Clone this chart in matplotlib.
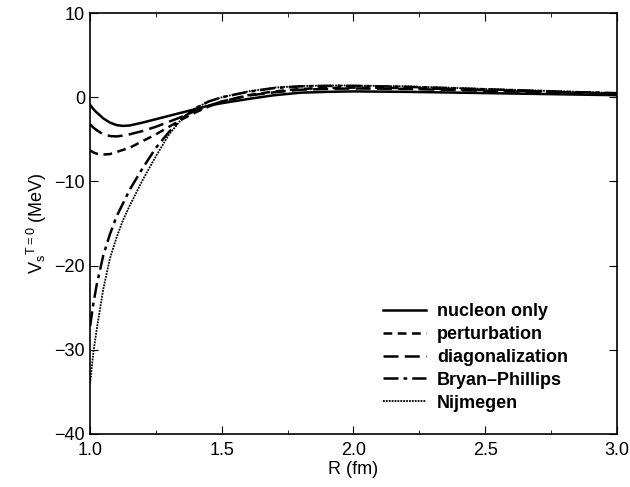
import numpy as np
import matplotlib.pyplot as plt
from matplotlib.ticker import MultipleLocator

plt.rcParams['font.family'] = ['Liberation Sans', 'DejaVu Sans']
plt.rcParams['mathtext.default'] = 'regular'

# R grid (fm) and potentials (MeV)
R = [1.0, 1.0125, 1.025, 1.05, 1.075, 1.1, 1.125, 1.15, 1.2, 1.25, 1.3, 1.35, 1.4,
     1.45, 1.5, 1.6, 1.7, 1.8, 1.9, 2.0, 2.2, 2.4, 2.6, 2.8, 3.0]

v_nucleon = [-0.9, -1.4, -1.8, -2.5, -3.0, -3.3, -3.4, -3.35, -3.0, -2.6, -2.2, -1.8, -1.4,
             -1.0, -0.7, -0.2, 0.25, 0.55, 0.65, 0.7, 0.65, 0.55, 0.45, 0.35, 0.25]
v_pert = [-6.3, -6.55, -6.7, -6.8, -6.75, -6.5, -6.25, -6.0, -5.2, -4.4, -3.5, -2.6, -1.8,
          -1.1, -0.5, 0.25, 0.7, 1.0, 1.1, 1.15, 1.1, 0.95, 0.8, 0.6, 0.45]
v_diag = [-3.2, -3.6, -3.9, -4.4, -4.6, -4.65, -4.55, -4.4, -4.0, -3.5, -2.9, -2.3, -1.6,
          -1.0, -0.5, 0.2, 0.6, 0.9, 1.0, 1.05, 1.0, 0.85, 0.7, 0.55, 0.4]
v_bp = [-27.2, -24.5, -22.3, -18.8, -16.3, -14.2, -12.6, -11.0, -8.4, -6.0, -4.1, -2.5, -1.3,
        -0.5, 0.0, 0.65, 1.1, 1.3, 1.35, 1.35, 1.25, 1.05, 0.85, 0.65, 0.5]
v_nijm = [-34.0, -30.3, -27.6, -22.8, -19.2, -16.7, -14.6, -12.9, -9.8, -7.0, -4.4, -2.5, -1.3,
          -0.5, 0.0, 0.7, 1.15, 1.35, 1.4, 1.4, 1.3, 1.1, 0.9, 0.7, 0.5]

fig = plt.figure(figsize=(6.3, 4.87), dpi=100)
ax = fig.add_axes([0.143, 0.109, 0.836, 0.864])

ax.plot(R, v_nucleon, color='black', lw=1.8, ls='-', label='nucleon only')
ax.plot(R, v_pert, color='black', lw=1.8, ls=(0, (3.5, 2.2)), label='perturbation')
ax.plot(R, v_diag, color='black', lw=1.8, ls=(0, (6, 2.5)), label='diagonalization')
ax.plot(R, v_bp, color='black', lw=1.8, ls=(0, (6, 2, 1.5, 2)), label='Bryan\u2013Phillips')
ax.plot(R, v_nijm, color='black', lw=1.3, ls=(0, (1, 0.6)), label='Nijmegen')

ax.set_xlim(1.0, 3.0)
ax.set_ylim(-40, 10)
ax.xaxis.set_major_locator(MultipleLocator(0.5))
ax.xaxis.set_minor_locator(MultipleLocator(0.25))
ax.yaxis.set_major_locator(MultipleLocator(10))
ax.xaxis.set_major_formatter(plt.FormatStrFormatter('%.1f'))
ax.yaxis.set_major_formatter(plt.FuncFormatter(lambda v, p: f'{v:.0f}'.replace('-', '\u2212')))
ax.tick_params(which='both', direction='in', top=True, right=True, labelsize=13)
ax.tick_params(axis='x', pad=6)
ax.tick_params(which='major', length=6)
ax.tick_params(which='minor', length=3)
for s in ax.spines.values():
    s.set_linewidth(1.2)

ax.set_xlabel('R (fm)', fontsize=13, labelpad=1)
ax.set_ylabel('V$_s$$^{T=0}$ (MeV)', fontsize=13, labelpad=4)

leg = ax.legend(loc='lower left', bbox_to_anchor=(0.525, 0.014), frameon=False,
                handlelength=2.4, handletextpad=0.6, labelspacing=0.33,
                prop={'weight': 'bold', 'size': 13})

fig.savefig('out.png', dpi=100)
